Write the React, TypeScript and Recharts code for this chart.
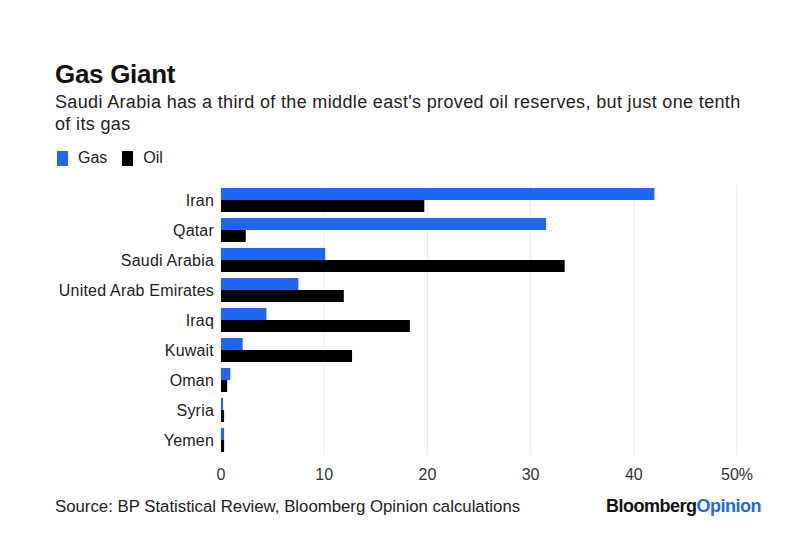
import React from "react";
import { BarChart, Bar, XAxis, YAxis, CartesianGrid } from "recharts";

const countries = [
    "Iran",
    "Qatar",
    "Saudi Arabia",
    "United Arab Emirates",
    "Iraq",
    "Kuwait",
    "Oman",
    "Syria",
    "Yemen"
];
// share of middle east proved reserves, %
const gasShare = [42.0, 31.5, 10.1, 7.5, 4.4, 2.1, 0.9, 0.2, 0.3];
const oilShare = [19.7, 2.4, 33.3, 11.9, 18.3, 12.7, 0.6, 0.3, 0.3];
const xTicks = [0, 10, 20, 30, 40, 50];

const data = countries.map((name, i) => ({
    name,
    gas: gasShare[i],
    oil: oilShare[i]
}));

const FONT = "'Liberation Sans', Arial, Helvetica, sans-serif";
const BLUE = "#1f66f5";

export default function App() {
    return (
        <div
            style={{
                position: "absolute",
                top: 0,
                left: 0,
                width: 800,
                height: 545,
                background: "#fff",
                fontFamily: FONT,
                color: "#111"
            }}
        >
            <div style={{ position: "absolute", left: 55, top: 59, fontSize: 26, fontWeight: 700, letterSpacing: -0.3 }}>
                Gas Giant
            </div>
            <div style={{ position: "absolute", left: 55, top: 91, width: 700, fontSize: 18, lineHeight: "22px", letterSpacing: 0.35, color: "#222" }}>
                Saudi Arabia has a third of the middle east's proved oil reserves, but just one tenth of its gas
            </div>
            {/* legend */}
            <div style={{ position: "absolute", left: 57, top: 149, display: "flex", alignItems: "center", fontSize: 16, color: "#222" }}>
                <span style={{ width: 11, height: 15, background: BLUE, display: "inline-block", marginRight: 10 }} />
                <span style={{ marginRight: 15 }}>Gas</span>
                <span style={{ width: 11, height: 15, background: "#000", display: "inline-block", marginRight: 10 }} />
                <span>Oil</span>
            </div>

            <div style={{ position: "absolute", left: 0, top: 0 }}>
                <BarChart
                    width={800}
                    height={545}
                    data={data}
                    layout="vertical"
                    margin={{ top: 185, right: 63, bottom: 60, left: 0 }}
                    barCategoryGap="10%"
                    barGap={0}
                >
                    <CartesianGrid horizontal={false} stroke="#e8e8e8" />
                    <XAxis
                        type="number"
                        domain={[0, 50]}
                        ticks={xTicks}
                        tickFormatter={(v: number) => (v === 50 ? "50%" : String(v))}
                        axisLine={false}
                        tickLine={false}
                        tick={{ fontSize: 16, fill: "#333", fontFamily: FONT }}
                        tickMargin={8}
                        height={30}
                    />
                    <YAxis
                        type="category"
                        dataKey="name"
                        width={221}
                        axisLine={false}
                        tickLine={false}
                        tickMargin={1}
                        tick={{ fontSize: 16, fill: "#222", fontFamily: FONT, letterSpacing: 0.2 }}
                        interval={0}
                    />
                    <Bar dataKey="gas" fill={BLUE} isAnimationActive={false} />
                    <Bar dataKey="oil" fill="#000" isAnimationActive={false} />
                </BarChart>
            </div>

            <div style={{ position: "absolute", left: 55, top: 497, fontSize: 16.8, color: "#222" }}>
                Source: BP Statistical Review, Bloomberg Opinion calculations
            </div>
            <div style={{ position: "absolute", left: 606, top: 496, fontSize: 18, fontWeight: 700, letterSpacing: -0.5 }}>
                <span style={{ color: "#111" }}>Bloomberg</span>
                <span style={{ color: BLUE }}>Opinion</span>
            </div>
        </div>
    );
}
